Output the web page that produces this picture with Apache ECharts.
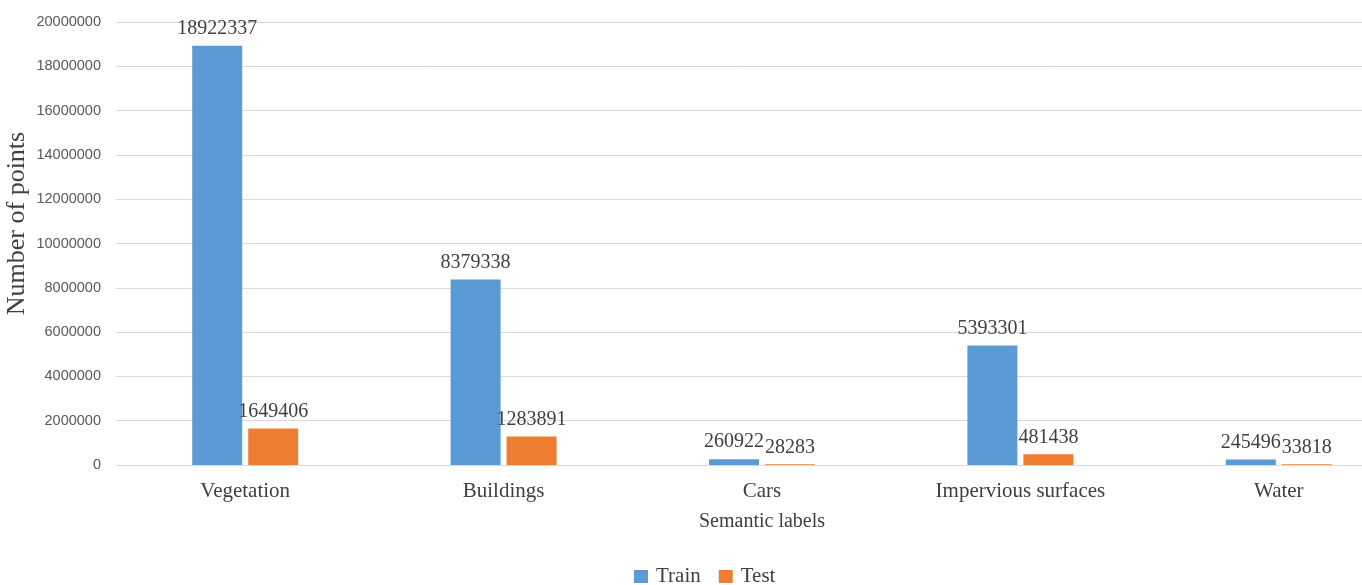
<!DOCTYPE html>
<html>
<head>
<meta charset="utf-8">
<script src="https://cdn.jsdelivr.net/npm/echarts@6/dist/echarts.min.js"></script>
<style>
  html, body { margin: 0; padding: 0; background: #fff; }
  #chart { width: 1362px; height: 585px; }
</style>
</head>
<body>
<div id="chart"></div>
<script>
var categories = ['Vegetation', 'Buildings', 'Cars', 'Impervious surfaces', 'Water']
var trainValues = [18922337, 8379338, 260922, 5393301, 245496]
var testValues = [1649406, 1283891, 28283, 481438, 33818]
var yTicks = { min: 0, max: 20000000, step: 2000000 }

var chart = echarts.init(document.getElementById('chart'))
var serif = '"Liberation Serif", "Times New Roman", serif'

var labelStyle = {
  show: true,
  position: 'top',
  fontFamily: serif,
  fontSize: 20,
  color: '#404040',
  distance: 7
}

var option = {
  animation: false,
  textStyle: { fontFamily: serif },
  // the plot runs past the right edge of the picture, as in the original crop
  grid: { left: 116, width: 1292, top: 22, bottom: 120, outerBoundsMode: 'none' },
  legend: {
    top: 561,
    left: 629,
    itemWidth: 14,
    itemHeight: 13,
    itemGap: 18,
    icon: 'rect',
    textStyle: { fontFamily: serif, fontSize: 21, color: '#404040', padding: [0, 0, 0, 3] },
    data: ['Train', 'Test']
  },
  xAxis: {
    type: 'category',
    data: categories,
    name: 'Semantic labels',
    nameLocation: 'middle',
    nameGap: 47,
    nameMoveOverlap: false,
    nameTextStyle: { fontFamily: serif, fontSize: 20, color: '#404040' },
    axisLine: { lineStyle: { color: '#d9d9d9' } },
    axisTick: { show: false },
    axisLabel: { fontFamily: serif, fontSize: 21, color: '#404040', margin: 16 }
  },
  yAxis: {
    type: 'value',
    min: yTicks.min,
    max: yTicks.max,
    interval: yTicks.step,
    name: 'Number of points',
    nameLocation: 'middle',
    nameGap: 86,
    nameMoveOverlap: false,
    nameTextStyle: { fontFamily: serif, fontSize: 26, color: '#404040', padding: [0, 0, 0, 40] },
    axisLine: { show: false },
    axisTick: { show: false },
    splitLine: { lineStyle: { color: '#d9d9d9' } },
    axisLabel: {
      fontFamily: '"Liberation Sans", Arial, sans-serif',
      fontSize: 14.5,
      color: '#595959',
      margin: 15,
      formatter: function (v) { return String(v) }
    }
  },
  series: [
    {
      name: 'Train',
      type: 'bar',
      data: trainValues,
      barWidth: 50,
      barGap: '12%',
      itemStyle: { color: '#5b9bd5' },
      label: labelStyle
    },
    {
      name: 'Test',
      type: 'bar',
      data: testValues,
      barWidth: 50,
      itemStyle: { color: '#ed7d31' },
      label: labelStyle
    }
  ]
}

option && chart.setOption(option)
window.onresize = function () { chart.resize() }
</script>
</body>
</html>
